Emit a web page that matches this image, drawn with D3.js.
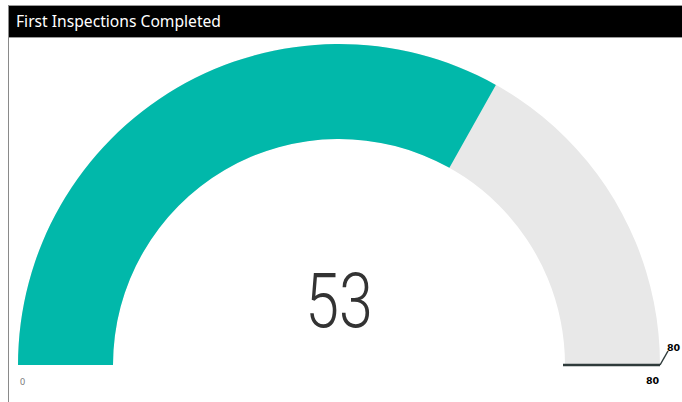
<!DOCTYPE html>
<html>
<head>
<meta charset="utf-8">
<script src="https://cdn.jsdelivr.net/npm/d3@7"></script>
<style>
  body { margin: 0; background: #fff; }
  svg { display: block; }
</style>
</head>
<body>
<div id="chart"></div>
<script>
// gauge values
const title = "First Inspections Completed";
const gaugeValue = [53];
const gaugeRange = [0, 80];
const targetValue = [80];

const width = 682;
const height = 402;

const svg = d3.select("#chart").append("svg").attr("width", width).attr("height", height);

// header bar
svg.append("rect").attr("x", 8).attr("y", 5).attr("width", width - 8).attr("height", 33).attr("fill", "#000");
svg.append("line").attr("x1", 8).attr("x2", width).attr("y1", 5.5).attr("y2", 5.5).attr("stroke", "#9a9a9a");
svg.append("line").attr("x1", 8).attr("x2", width).attr("y1", 37.5).attr("y2", 37.5).attr("stroke", "#9a9a9a");
svg.append("line").attr("x1", 8.5).attr("x2", 8.5).attr("y1", 5).attr("y2", height).attr("stroke", "#8a8a8a");
svg.append("text")
  .attr("x", 16).attr("y", 27)
  .attr("fill", "#fff")
  .attr("textLength", 205)
  .attr("lengthAdjust", "spacingAndGlyphs")
  .style("font-family", "'Noto Sans', sans-serif")
  .style("font-size", "15.5px")
  .text(title);

const cx = 339;
const cy = 365;
const outerR = 321;
const innerR = 226;

const angle = d3.scaleLinear().domain(gaugeRange).range([-Math.PI / 2, Math.PI / 2]);

const arc = d3.arc().innerRadius(innerR).outerRadius(outerR);

const g = svg.append("g").attr("transform", `translate(${cx},${cy})`);

// background track
g.append("path")
  .attr("d", arc({ startAngle: angle(gaugeRange[0]), endAngle: angle(gaugeRange[1]) }))
  .attr("fill", "#e8e8e8");

// value fill
g.append("path")
  .attr("d", arc({ startAngle: angle(gaugeRange[0]), endAngle: angle(gaugeValue[0]) }))
  .attr("fill", "#01b8aa");

// target marker (radial line)
const ta = angle(targetValue[0]);
g.append("line")
  .attr("x1", innerR * Math.sin(ta) - 2).attr("y1", -innerR * Math.cos(ta))
  .attr("x2", outerR * Math.sin(ta)).attr("y2", -outerR * Math.cos(ta))
  .attr("stroke", "#2f3b3b").attr("stroke-width", 2.5);

// leader line to target label
const tx = outerR * Math.sin(ta);
const ty = -outerR * Math.cos(ta);
g.append("line")
  .attr("x1", tx).attr("y1", ty)
  .attr("x2", tx + 8).attr("y2", ty - 14)
  .attr("stroke", "#2f3b3b").attr("stroke-width", 1.5);

g.append("text")
  .attr("x", tx + 7).attr("y", ty - 14)
  .attr("fill", "#000")
  .style("font-family", "'DejaVu Sans', sans-serif")
  .style("font-size", "9.5px")
  .style("font-weight", "bold")
  .text(d3.format("d")(targetValue[0]));

// min / max labels
g.append("text")
  .attr("x", -outerR * Math.sin(-angle(gaugeRange[0])) + 2).attr("y", 20)
  .attr("fill", "#777")
  .style("font-family", "'Noto Sans', sans-serif")
  .style("font-size", "9px")
  .text(gaugeRange[0]);

g.append("text")
  .attr("x", outerR * Math.sin(angle(gaugeRange[1])) - 14).attr("y", 19)
  .attr("fill", "#000")
  .style("font-family", "'DejaVu Sans', sans-serif")
  .style("font-size", "9.5px")
  .style("font-weight", "bold")
  .text(gaugeRange[1]);

// central value
g.append("text")
  .attr("transform", "translate(0,-38) scale(0.8,1)")
  .attr("text-anchor", "middle")
  .attr("fill", "#333")
  .style("font-family", "Roboto, sans-serif")
  .style("font-weight", "300")
  .style("font-size", "76px")
  .text(gaugeValue[0]);
</script>
</body>
</html>
